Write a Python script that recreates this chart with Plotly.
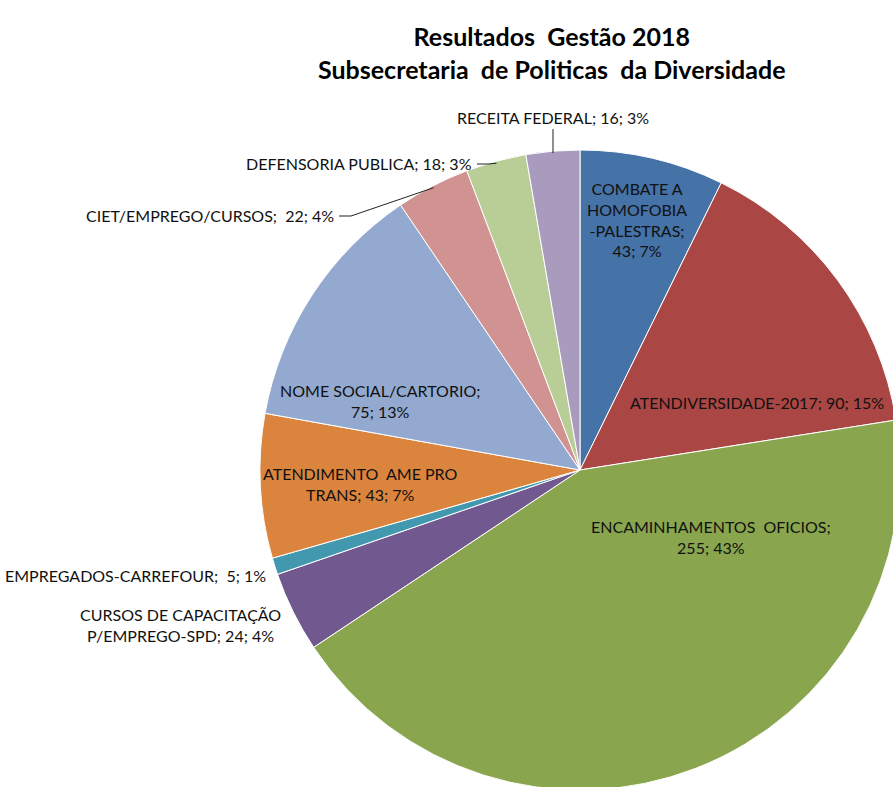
import math
import plotly.graph_objects as go

# slice names ("\n" marks where the label wraps), counts and colours
categories = [
    "COMBATE A\nHOMOFOBIA\n-PALESTRAS;\n",
    "ATENDIVERSIDADE-2017; ",
    "ENCAMINHAMENTOS  OFICIOS;\n",
    "CURSOS DE CAPACITAÇÃO\nP/EMPREGO-SPD; ",
    "EMPREGADOS-CARREFOUR;  ",
    "ATENDIMENTO  AME PRO\nTRANS; ",
    "NOME SOCIAL/CARTORIO;\n",
    "CIET/EMPREGO/CURSOS;  ",
    "DEFENSORIA PUBLICA; ",
    "RECEITA FEDERAL; ",
]
values = [43, 90, 255, 24, 5, 43, 75, 22, 18, 16]
colors = ["#4572A7", "#AA4643", "#89A54E", "#71588F", "#4198AF",
          "#DB843D", "#93A9CF", "#D19392", "#B9CD96", "#A99BBD"]
title_lines = ["Resultados  Gestão 2018", "Subsecretaria  de Politicas  da Diversidade"]

# figure is a bit larger than the window so the pie runs off the right/bottom edge
W, H = 900, 790
CX, CY, R = 580, 470, 320

# label placement in pixels: (x, y, xanchor, leader style)
label_pos = [
    (637, 220, "center", None),
    (757, 402, "center", None),
    (711, 537, "center", None),
    (283, 625, "right", None),
    (268, 575, "right", None),
    (360, 484, "center", None),
    (380, 401, "center", None),
    (336, 215, "right", "elbow"),
    (474, 163, "right", "elbow"),
    (553, 117, "center", "vertical"),
]

total = sum(values)
names = [c.replace("\n", " ").strip().rstrip(";") for c in categories]


def px(x, y):
    return x / W, 1 - y / H


fig = go.Figure(go.Pie(
    labels=names,
    values=values,
    sort=False,
    direction="clockwise",
    rotation=0,
    marker=dict(colors=colors, line=dict(color="white", width=1)),
    textinfo="none",
    hoverinfo="label+value+percent",
    domain=dict(x=[(CX - R) / W, (CX + R) / W],
                y=[1 - (CY + R) / H, 1 - (CY - R) / H]),
    showlegend=False,
))

label_font = dict(family="Lato, Open Sans, sans-serif", size=16, color="#111111")
annotations = []
shapes = []
cum = 0
for cat, v, (lx, ly, anchor, leader) in zip(categories, values, label_pos):
    pct = round(v / total * 100)
    text = (cat + f"{v}; {pct}%").replace("\n", "<br>")
    ax, ay = px(lx, ly)
    annotations.append(dict(
        x=ax, y=ay, xref="paper", yref="paper", text=text, showarrow=False,
        xanchor=anchor, yanchor="middle", align="center", font=label_font,
    ))
    mid = (cum + v / 2) / total * 2 * math.pi
    cum += v
    ex = CX + (R - 2) * math.sin(mid)
    ey = CY - (R - 2) * math.cos(mid)
    if leader == "elbow":
        x0, y0 = px(lx + 3, ly + 1)
        x1, y1 = px(lx + 15, ly + 1)
        x2, y2 = px(ex, ey)
        shapes.append(dict(type="path", xref="paper", yref="paper",
                           path=f"M {x0} {y0} L {x1} {y1} L {x2} {y2}",
                           line=dict(color="#222222", width=1)))
    elif leader == "vertical":
        x0, y0 = px(ex, ly + 12)
        x2, y2 = px(ex, ey)
        shapes.append(dict(type="line", xref="paper", yref="paper",
                           x0=x0, y0=y0, x1=x2, y1=y2,
                           line=dict(color="#222222", width=1)))

tx, ty = px(552, 52)
annotations.append(dict(
    x=tx, y=ty, xref="paper", yref="paper",
    text="<b>" + "<br>".join(title_lines) + "</b>",
    showarrow=False, xanchor="center", yanchor="middle", align="center",
    font=dict(family="Lato, Open Sans, sans-serif", size=25, color="#000000"),
))

fig.update_layout(
    width=W, height=H,
    margin=dict(l=0, r=0, t=0, b=0),
    paper_bgcolor="white",
    plot_bgcolor="white",
    annotations=annotations,
    shapes=shapes,
)

fig.write_html("out.html",
               config={"displayModeBar": False},
               post_script="document.body.style.margin='0';"
                           "document.body.style.overflow='hidden';")
